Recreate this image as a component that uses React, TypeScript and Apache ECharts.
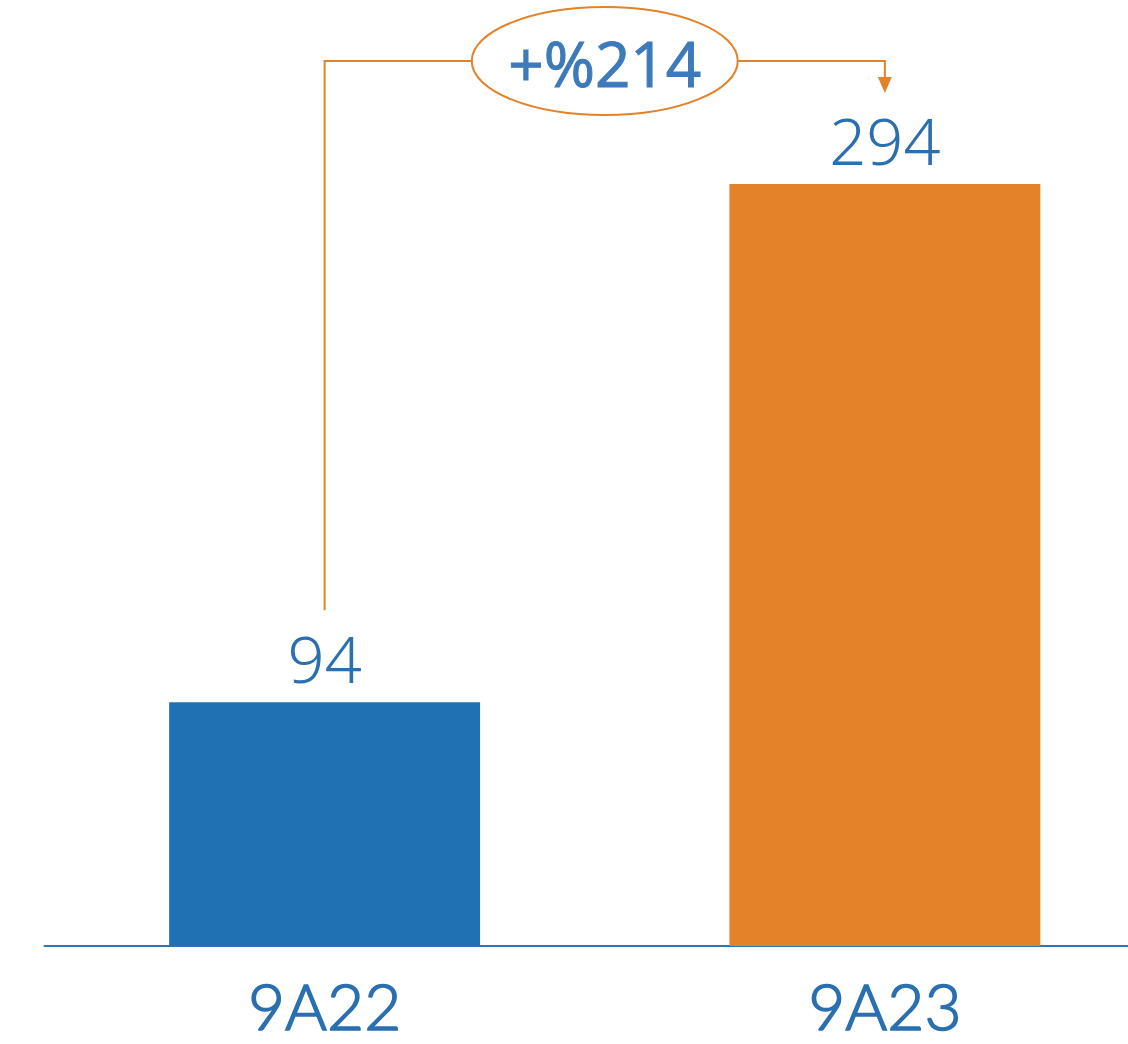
import React, { useEffect, useRef } from "react";
import * as echarts from "echarts";

const categories = ["9A22", "9A23"];
const values = [94, 294];
const barColors = ["#2070b4", "#e38228"];
const changeLabel = "+%214";

export default function App() {
  const ref = useRef<HTMLDivElement>(null);
  useEffect(() => {
    document.body.style.margin = "0";
    const chart = echarts.init(ref.current!, null, { renderer: "svg" });
    chart.setOption({
      animation: false,
      backgroundColor: "#ffffff",
      grid: { left: 44.5, top: 0, right: 0, bottom: 98, containLabel: false },
      xAxis: {
        type: "category",
        data: categories,
        axisLine: { show: true, lineStyle: { color: "#2e75b6", width: 2 } },
        axisTick: { show: false },
        axisLabel: {
          color: "#2a6fb0",
          fontSize: 64,
          lineHeight: 54,
          fontWeight: 300,
          fontFamily: "Lato, 'Liberation Sans', sans-serif",
          textBorderColor: "#2a6fb0",
          textBorderWidth: 1.6,
          margin: 32,
        },
      },
      yAxis: {
        type: "value",
        min: 0,
        max: 365,
        show: false,
        splitLine: { show: false },
      },
      series: [
        {
          type: "bar",
          barWidth: "55.5%",
          data: values.map((v, i) => ({ value: v, itemStyle: { color: barColors[i] } })),
          label: {
            show: true,
            position: "top",
            distance: 12,
            color: "#2a6fb0",
            fontSize: 65,
            fontWeight: 300,
            fontFamily: "'Noto Sans', sans-serif",
          },
        },
      ],
    });

    const p0 = chart.convertToPixel({ gridIndex: 0 }, [0, values[0]]) as number[];
    const p1 = chart.convertToPixel({ gridIndex: 0 }, [1, values[1]]) as number[];
    const yLine = 61;
    const ecx = (p0[0] + p1[0]) / 2;
    const rx = 133;
    const ry = 54;
    const orange = "#e38228";
    const leftBottom = p0[1] - 92;
    const arrowTip = p1[1] - 91;
    chart.setOption({
      graphic: [
        {
          type: "polyline",
          shape: {
            points: [
              [p0[0], leftBottom],
              [p0[0], yLine],
              [ecx - rx, yLine],
            ],
          },
          style: { stroke: orange, lineWidth: 2, fill: null },
        },
        {
          type: "polyline",
          shape: {
            points: [
              [ecx + rx, yLine],
              [p1[0], yLine],
              [p1[0], arrowTip - 14],
            ],
          },
          style: { stroke: orange, lineWidth: 2, fill: null },
        },
        {
          type: "polygon",
          shape: {
            points: [
              [p1[0] - 7, arrowTip - 16],
              [p1[0] + 7, arrowTip - 16],
              [p1[0], arrowTip],
            ],
          },
          style: { fill: orange },
        },
        {
          type: "ellipse",
          shape: { cx: ecx, cy: yLine, rx, ry },
          style: { stroke: orange, lineWidth: 2, fill: "#ffffff" },
        },
        {
          type: "text",
          x: ecx,
          y: yLine + 2,
          style: {
            text: changeLabel,
            fill: "#3d7abb",
            stroke: "#3d7abb",
            lineWidth: 1,
            fontSize: 62,
            fontWeight: 400,
            fontFamily: "'Open Sans', sans-serif",
            align: "center",
            verticalAlign: "middle",
          },
        },
      ],
    });
    return () => chart.dispose();
  }, []);
  return (
    <div style={{ width: 1128, height: 1044, overflow: "hidden", position: "relative" }}>
      <div ref={ref} style={{ width: 1165, height: 1044 }} />
    </div>
  );
}
